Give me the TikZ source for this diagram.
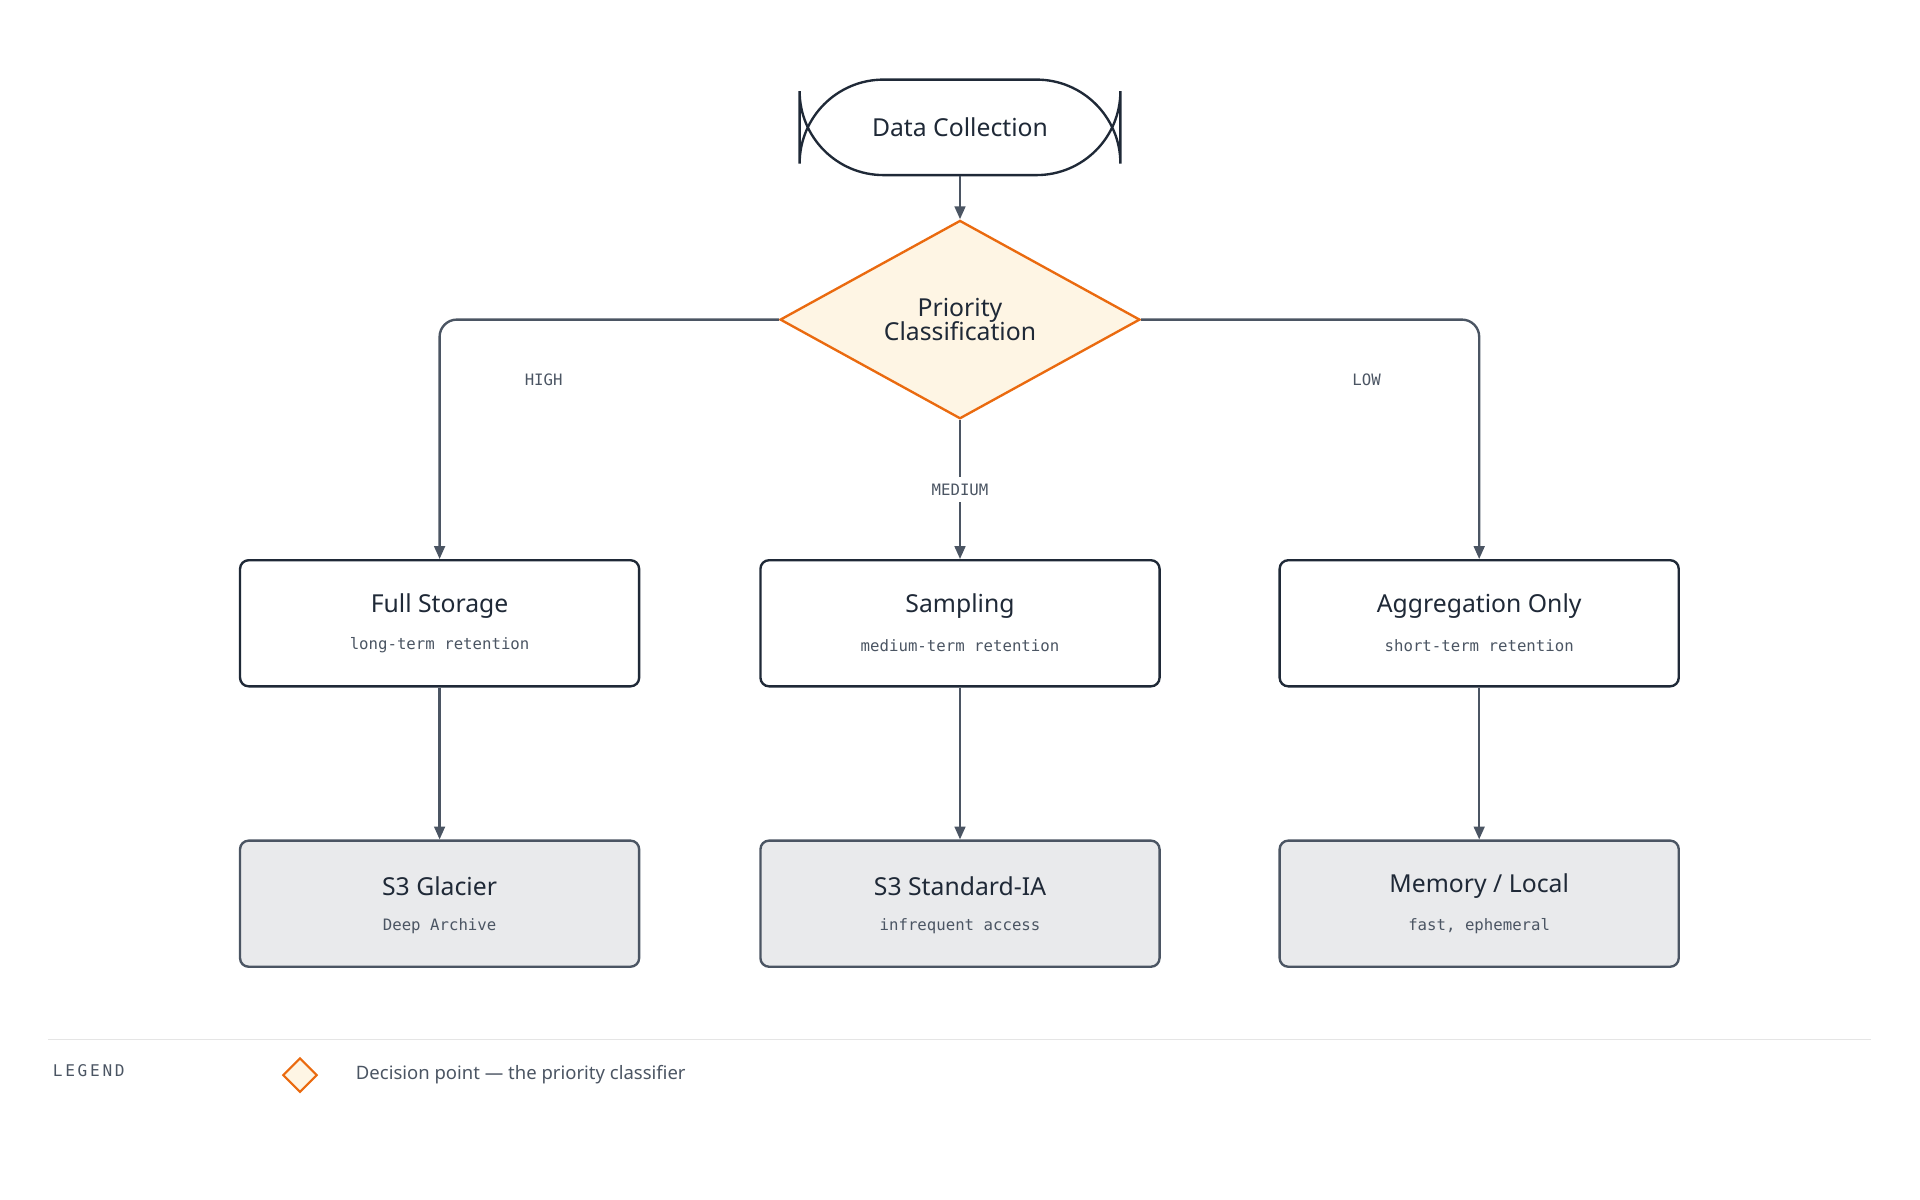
\documentclass[tikz,border=0pt]{standalone}
\usepackage{fontspec}
\setmainfont{Noto Sans}
\setmonofont{DejaVu Sans Mono}
\usetikzlibrary{positioning,shapes.geometric,arrows.meta}
\definecolor{ink}{HTML}{1F2937}
\definecolor{edge}{HTML}{4B5563}
\definecolor{orng}{HTML}{EA6A0F}
\definecolor{cream}{HTML}{FEF5E4}
\definecolor{store}{HTML}{E9EAEC}
\begin{document}
\begin{tikzpicture}[x=0.02cm,y=-0.02cm,>={Triangle[length=6pt,width=5pt]}]

	\tikzset{
		stepbox/.style={draw=ink,line width=1.1pt,rounded corners=4pt,fill=white,
			minimum width=6.52cm,minimum height=2.06cm,align=center},
		storebox/.style={stepbox,draw=edge,fill=store},
		title/.style={font=\fontsize{11.5}{13}\selectfont\bfseries,text=ink},
		sub/.style={font=\ttfamily\fontsize{7.3}{9}\selectfont,text=edge},
		lbl/.style={font=\ttfamily\fontsize{7.3}{9}\selectfont,text=edge},
		flow/.style={->,draw=edge,line width=1.1pt,rounded corners=8pt},
	}

	% Macro: box with title and mono subtitle
	% Arguments: style, name, x, y, title, subtitle
	\newcommand{\StepBox}[6]{%
		\node[#1] (#2) at (#3,#4) {};
		\node[title] at (#3,#4-14) {#5};
		\node[sub] at (#3,#4+18) {#6};
	}

	\useasboundingbox (0,0) rectangle (1568,980);

	%========================================
	% Top: start and decision
	%========================================
	\node[draw=ink,line width=1.1pt,rounded corners=39pt,minimum width=5.24cm,
		minimum height=1.56cm,title] (collect) at (784,104) {Data Collection};
	\node[diamond,draw=orng,fill=cream,line width=1.1pt,aspect=1.8,
		minimum width=5.88cm,minimum height=3.24cm,inner sep=0pt,title,align=center]
		(prio) at (784,261) {Priority\\[-2pt]Classification};

	%========================================
	% Middle and bottom rows
	%========================================
	\StepBox{stepbox}{full}{359}{509}{Full Storage}{long-term retention}
	\StepBox{stepbox}{samp}{784}{509}{Sampling}{medium-term retention}
	\StepBox{stepbox}{aggr}{1208}{509}{Aggregation Only}{short-term retention}
	\StepBox{storebox}{glac}{359}{738}{S3 Glacier}{Deep Archive}
	\StepBox{storebox}{stdia}{784}{738}{S3 Standard-IA}{infrequent access}
	\StepBox{storebox}{mem}{1208}{738}{Memory / Local}{fast, ephemeral}

	% Connectors
	\draw[flow] (collect) -- (prio);
	\draw[flow] (prio.west) -| (full.north);
	\draw[flow] (prio.east) -| (aggr.north);
	\draw[flow] (prio.south) -- node[fill=white,lbl,inner sep=3pt] {MEDIUM} (samp.north);
	\node[lbl] (high) at (444,310) {HIGH};
	\node[lbl] (low) at (1116,310) {LOW};
	\draw[flow] (full) -- (glac);
	\draw[flow] (samp) -- (stdia);
	\draw[flow] (aggr) -- (mem);

	%========================================
	% Legend
	%========================================
	\draw[draw=black!10,line width=0.6pt] (39,849) -- (1528,849);
	\node[anchor=west,font=\ttfamily\fontsize{7.5}{9}\selectfont,text=edge] (leg) at (37,874)
		{L\,E\,G\,E\,N\,D};
	\node[diamond,draw=orng,fill=cream,line width=1pt,minimum size=0.56cm,inner sep=0pt]
		(legdia) at (245,878) {};
	\node[anchor=west,font=\fontsize{8.6}{10}\selectfont,text=edge,right=14pt of legdia]
		(legtxt) {Decision point — the priority classifier};

\end{tikzpicture}
\end{document}
